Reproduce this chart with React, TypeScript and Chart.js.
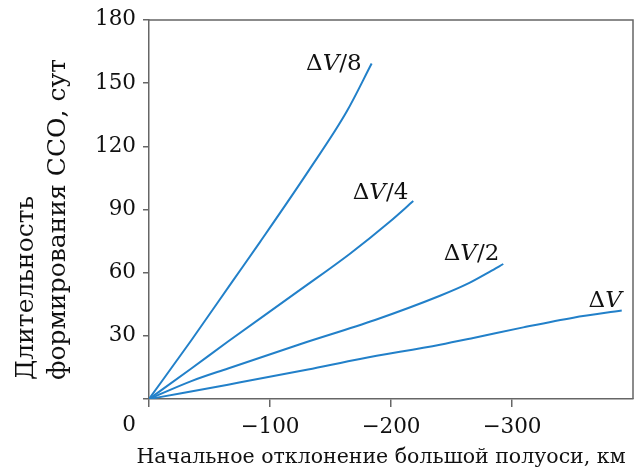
import { useEffect, useRef } from "react";
import { Chart, registerables } from "chart.js";

Chart.register(...registerables);

const FONT = "'DejaVu Serif', serif";
const LINE_COLOR = "#2280c9";
const AXIS_COLOR = "#666666";
const TEXT_COLOR = "#111111";

const xTicks = [0, -100, -200, -300];
const yTicks = [0, 30, 60, 90, 120, 150, 180];

const seriesNames = ["/8", "/4", "/2", ""];

const dv8X = [0, -35, -69.4, -91.7, -131.7, -163.4, -184];
const dv8Y = [0, 27.9, 56.2, 74.5, 108.2, 136.5, 159.3];

const dv4X = [0, -35, -65.3, -124.8, -166.1, -199.2, -218.4];
const dv4Y = [0, 14.5, 27.3, 51.8, 69.0, 84.3, 94.0];

const dv2X = [0, -35, -65.3, -124.8, -186.8, -240.5, -262.6, -281.8, -292.8];
const dv2Y = [0, 8.5, 14.5, 26.0, 37.5, 49.0, 54.5, 60.5, 64.1];

const dv1X = [0, -26.7, -65.3, -131.4, -174.4, -240.5, -268, -309.3, -350.7, -390.7];
const dv1Y = [0, 2.7, 6.8, 14.0, 19.0, 25.8, 29.0, 34.0, 38.6, 42.0];

const xTitle = "Начальное отклонение большой полуоси, км";
const yTitle = ["Длительность", "формирования ССО, сут"];

// label offsets relative to line end (right edge, vertical centre)
const labelOffsets = [
  [-10, 1],
  [-5, -8],
  [-4, -10],
  [0, -10],
];

function pts(xs: number[], ys: number[]) {
  return xs.map((x, i) => ({ x, y: ys[i] }));
}

const decor = {
  id: "decor",
  afterDraw(chart: any) {
    const { ctx, chartArea } = chart;
    const { left, right, top, bottom } = chartArea;
    ctx.save();
    // top & right frame
    ctx.strokeStyle = AXIS_COLOR;
    ctx.lineWidth = 1.5;
    ctx.beginPath();
    ctx.moveTo(left, top);
    ctx.lineTo(right, top);
    ctx.lineTo(right, bottom);
    ctx.stroke();

    ctx.fillStyle = TEXT_COLOR;
    // corner zero
    ctx.font = `21.5px ${FONT}`;
    ctx.textAlign = "right";
    ctx.textBaseline = "middle";
    ctx.fillText("0", left - 13, bottom + 26);

    // x title
    ctx.textAlign = "center";
    ctx.textBaseline = "alphabetic";
    ctx.font = `20.5px ${FONT}`;
    ctx.fillText(xTitle, 381, 463);

    // y title
    ctx.save();
    ctx.rotate(-Math.PI / 2);
    ctx.textAlign = "left";
    ctx.textBaseline = "alphabetic";
    ctx.font = `25px ${FONT}`;
    ctx.fillText(yTitle[0], -380, 33);
    ctx.fillText(yTitle[1], -380, 65);
    ctx.restore();

    // series labels
    chart.data.datasets.forEach((ds: any, i: number) => {
      const meta = chart.getDatasetMeta(i);
      const last = meta.data[meta.data.length - 1];
      const rx = last.x + labelOffsets[i][0];
      const cy = last.y + labelOffsets[i][1];
      const segs = [
        { t: "Δ", f: `23px ${FONT}` },
        { t: "V", f: `italic 23px ${FONT}` },
        { t: seriesNames[i], f: `23px ${FONT}` },
      ];
      let total = 0;
      segs.forEach((s) => {
        ctx.font = s.f;
        total += ctx.measureText(s.t).width;
      });
      let x = rx - total;
      ctx.textAlign = "left";
      ctx.textBaseline = "middle";
      segs.forEach((s) => {
        ctx.font = s.f;
        ctx.fillText(s.t, x, cy);
        x += ctx.measureText(s.t).width;
      });
    });
    ctx.restore();
  },
};

export default function App() {
  const ref = useRef<HTMLCanvasElement>(null);
  useEffect(() => {
    document.body.style.margin = "0";
    const canvas = ref.current!;
    const mk = (xs: number[], ys: number[]) => ({
      data: pts(xs, ys),
      borderColor: LINE_COLOR,
      borderWidth: 2,
      pointRadius: 0,
      fill: false,
      cubicInterpolationMode: "monotone" as const,
    });
    const chart = new Chart(canvas, {
      type: "line",
      data: {
        datasets: [mk(dv8X, dv8Y), mk(dv4X, dv4Y), mk(dv2X, dv2Y), mk(dv1X, dv1Y)],
      },
      options: {
        animation: false,
        responsive: false,
        layout: { padding: { top: 18, right: 1, left: 0, bottom: 0 } },
        plugins: { legend: { display: false }, tooltip: { enabled: false } },
        scales: {
          x: {
            type: "linear",
            min: -400,
            max: 0,
            reverse: true,
            afterBuildTicks: (s: any) => {
              s.ticks = xTicks.map((v) => ({ value: v }));
            },
            afterFit: (s: any) => {
              s.height = 73;
            },
            ticks: {
              autoSkip: false,
              maxRotation: 0,
              padding: 8,
              color: TEXT_COLOR,
              font: { family: FONT, size: 21.5 },
              callback: (v: any) => (Number(v) < 0 ? "\u2212" + Math.abs(Number(v)) : ""),
            },
            grid: {
              display: true,
              drawOnChartArea: false,
              drawTicks: true,
              tickLength: 8,
              color: AXIS_COLOR,
              lineWidth: 1.5,
            },
            border: { display: true, color: AXIS_COLOR, width: 1.5 },
          },
          y: {
            type: "linear",
            min: 0,
            max: 180,
            afterBuildTicks: (s: any) => {
              s.ticks = yTicks.map((v) => ({ value: v }));
            },
            afterFit: (s: any) => {
              s.width = 149;
            },
            ticks: {
              autoSkip: false,
              padding: 7,
              color: TEXT_COLOR,
              font: { family: FONT, size: 21.5 },
              callback: (v: any) => (Number(v) === 0 ? "" : String(v)),
            },
            grid: {
              display: true,
              drawOnChartArea: false,
              drawTicks: true,
              tickLength: 6,
              color: AXIS_COLOR,
              lineWidth: 1.5,
            },
            border: { display: true, color: AXIS_COLOR, width: 1.5 },
          },
        },
      },
      plugins: [decor],
    });
    return () => chart.destroy();
  }, []);
  return (
    <div style={{ width: 634, height: 472 }}>
      <canvas ref={ref} width={634} height={472} style={{ display: "block" }} />
    </div>
  );
}
